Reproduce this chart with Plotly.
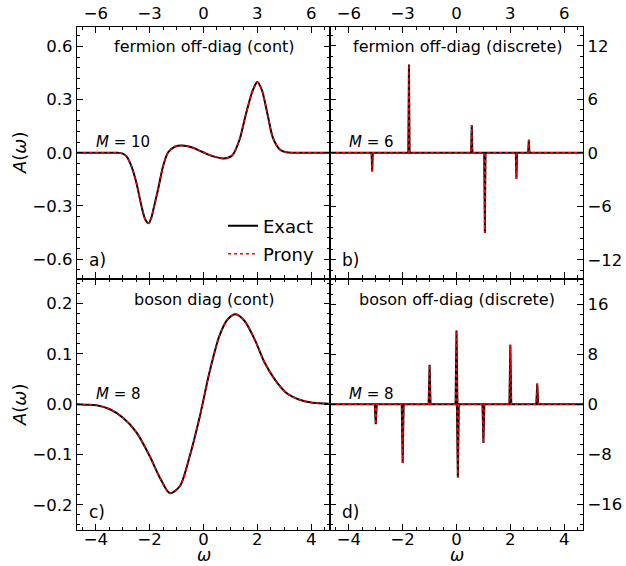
import plotly.graph_objects as go
from plotly.subplots import make_subplots

# ---------------- data ----------------
# (a) fermion off-diag (cont), omega in top-axis units
omega_a = [-7.05, -5.5, -4.8, -4.5, -4.30, -4.02, -3.74, -3.46, -3.25, -3.06, -2.90, -2.78,
           -2.53, -2.25, -1.97, -1.60, -1.20, -0.58, -0.22, 0.17, 0.60, 1.08, 1.40, 1.64,
           2.01, 2.38, 2.76, 3.00, 3.25, 3.59, 3.87, 4.25, 4.62, 5.0, 5.5, 7.05]
A_a = [0.0, 0.0, 0.0, -0.005, -0.019, -0.075, -0.169, -0.30, -0.375, -0.398, -0.365, -0.315,
       -0.206, -0.075, 0.003, 0.034, 0.041, 0.028, 0.012, -0.006, -0.022, -0.032, -0.027, -0.010,
       0.075, 0.225, 0.356, 0.400, 0.355, 0.206, 0.084, 0.019, 0.003, 0.0, 0.0, 0.0]

# (b) fermion off-diag (discrete) poles, omega in top-axis units
pos_b = [-4.70, -2.65, 0.85, 1.58, 3.34, 4.03]
amp_b = [-2.1, 9.9, 3.1, -9.0, -2.9, 1.45]

# (c) boson diag (cont)
omega_c = [-4.7, -4.4, -3.98, -3.48, -2.99, -2.49, -2.00, -1.62, -1.25, -0.88, -0.51, -0.14,
           0.22, 0.59, 0.90, 1.19, 1.52, 1.90, 2.27, 2.64, 3.07, 3.57, 4.06, 4.7]
A_c = [0.0, -0.001, -0.002, -0.010, -0.027, -0.056, -0.103, -0.146, -0.177, -0.163, -0.103, -0.025,
       0.063, 0.136, 0.169, 0.179, 0.166, 0.129, 0.083, 0.050, 0.023, 0.009, 0.003, 0.001]

# (d) boson off-diag (discrete) poles
pos_d = [-3.0, -2.0, -1.0, 0.0, 0.05, 1.0, 2.0, 3.0]
amp_d = [-3.2, -9.4, 6.3, 11.8, -11.7, -6.2, 9.5, 3.3]

top_xticks = [-6, -3, 0, 3, 6]
bot_xticks = [-4, -2, 0, 2, 4]
yticks_a = [-0.6, -0.3, 0.0, 0.3, 0.6]
yticks_b = [-12, -6, 0, 6, 12]
yticks_c = [-0.2, -0.1, 0.0, 0.1, 0.2]
yticks_d = [-16, -8, 0, 8, 16]

panel_titles = ["fermion off-diag (cont)", "fermion off-diag (discrete)",
                "boson diag (cont)", "boson off-diag (discrete)"]
panel_M = ["<i>M</i> = 10", "<i>M</i> = 6", "<i>M</i> = 8", "<i>M</i> = 8"]
panel_tags = ["a)", "b)", "c)", "d)"]


def spikes(pos, amp, lo, hi, d=0.035):
    xs, ys = [lo], [0.0]
    for p, a in sorted(zip(pos, amp)):
        xs += [p - d, p, p + d]
        ys += [0.0, a, 0.0]
    xs.append(hi)
    ys.append(0.0)
    return xs, ys


FONT = "DejaVu Sans"
fig = make_subplots(rows=2, cols=2, horizontal_spacing=0, vertical_spacing=0)

xb, yb = spikes(pos_b, amp_b, -7.05, 7.05)
xd, yd = spikes(pos_d, amp_d, -4.7, 4.7)

series = [(1, 1, omega_a, A_a, "spline"), (1, 2, xb, yb, "linear"),
          (2, 1, omega_c, A_c, "spline"), (2, 2, xd, yd, "linear")]
for i, (r, c, xs, ys, shp) in enumerate(series):
    first = i == 0
    fig.add_trace(go.Scatter(x=xs, y=ys, mode="lines", name="Exact", showlegend=first,
                             legend="legend",
                             line=dict(color="black", width=2, shape=shp, smoothing=0.8)),
                  row=r, col=c)
    fig.add_trace(go.Scatter(x=xs, y=ys, mode="lines", name="Prony", showlegend=first,
                             legend="legend2",
                             line=dict(color="red", width=1.5, dash="dot", shape=shp,
                                       smoothing=0.8)),
                  row=r, col=c)

TICKFONT = dict(family=FONT, size=16.5, color="black")
axis_common = dict(ticks="inside", ticklen=6, tickwidth=1.2, tickcolor="black",
                   showline=True, linecolor="black", linewidth=1.4, mirror="ticks",
                   showgrid=False, zeroline=False, automargin=False,
                   tickfont=TICKFONT)
minor_common = dict(ticks="inside", ticklen=3, tickwidth=1, tickcolor="black", showgrid=False)

# x axes
for ax in ("xaxis", "xaxis2"):
    fig.layout[ax].update(range=[-7.05, 7.05], tickvals=top_xticks, side="top",
                          minor=dict(dtick=0.75, tick0=0, **minor_common), **axis_common)
for ax in ("xaxis3", "xaxis4"):
    fig.layout[ax].update(range=[-4.7, 4.7], tickvals=bot_xticks, side="bottom",
                          ticklabelstandoff=-6,
                          minor=dict(dtick=0.5, tick0=0, **minor_common), **axis_common)
# y axes
fig.layout.yaxis.update(range=[-0.71, 0.71], tickvals=yticks_a, tickformat=".1f",
                        minor=dict(dtick=0.06, tick0=0, **minor_common), **axis_common)
fig.layout.yaxis2.update(range=[-14.1, 14.1], tickvals=yticks_b, side="right",
                         minor=dict(dtick=1.2, tick0=0, **minor_common), **axis_common)
fig.layout.yaxis3.update(range=[-0.25, 0.25], tickvals=yticks_c, tickformat=".1f",
                         minor=dict(dtick=0.02, tick0=0, **minor_common), **axis_common)
fig.layout.yaxis4.update(range=[-20.1, 20.1], tickvals=yticks_d, side="right",
                         minor=dict(dtick=1.6, tick0=0, **minor_common), **axis_common)

# annotations (paper coords from pixel positions)
L, R, T, B = 77, 583, 27, 530
W, H = R - L, B - T


def px(x):
    return (x - L) / W


def py(y):
    return (B - y) / H


panel_off = [(0, 0), (253, 0), (0, 252), (253, 252)]
for k, (dx, dy) in enumerate(panel_off):
    fig.add_annotation(x=px(204 + dx), y=py(47 + dy), xref="paper", yref="paper",
                       text=panel_titles[k], showarrow=False, xanchor="center", yanchor="middle",
                       font=dict(family=FONT, size=16, color="black"))
    fig.add_annotation(x=px(94 + dx), y=py(142 + dy), xref="paper", yref="paper",
                       text=panel_M[k], showarrow=False, xanchor="left", yanchor="middle",
                       font=dict(family=FONT, size=15, color="black"))
    fig.add_annotation(x=px(87 + dx), y=py(260 + dy), xref="paper", yref="paper",
                       text=panel_tags[k], showarrow=False, xanchor="left", yanchor="middle",
                       font=dict(family=FONT, size=17, color="black"))

# axis titles
for yc in (153, 405):
    fig.add_annotation(x=px(19), y=py(yc), xref="paper", yref="paper", text="<i>A</i>(<i>ω</i>)",
                       textangle=-90, showarrow=False, xanchor="center", yanchor="middle",
                       font=dict(family=FONT, size=18, color="black"))
for xc in (204, 457):
    fig.add_annotation(x=px(xc), y=py(566), xref="paper", yref="paper", text="<i>ω</i>",
                       showarrow=False, xanchor="center", yanchor="bottom",
                       borderpad=0, font=dict(family=FONT, size=17, color="black"))

leg = dict(xanchor="left", yanchor="middle", bgcolor="rgba(0,0,0,0)", borderwidth=0,
           font=dict(family=FONT, size=18, color="black"))
fig.update_layout(
    legend=dict(x=px(223), y=py(226), **leg),
    legend2=dict(x=px(223), y=py(254), **leg),
)

fig.update_layout(template="none", width=626, height=566,
                  margin=dict(l=L, r=626 - R, t=T, b=566 - B, autoexpand=False),
                  paper_bgcolor="white", plot_bgcolor="white",
                  font=dict(family=FONT, color="black"))

fig.write_html("out.html", config={"displayModeBar": False},
               post_script="document.body.style.margin='0';")
